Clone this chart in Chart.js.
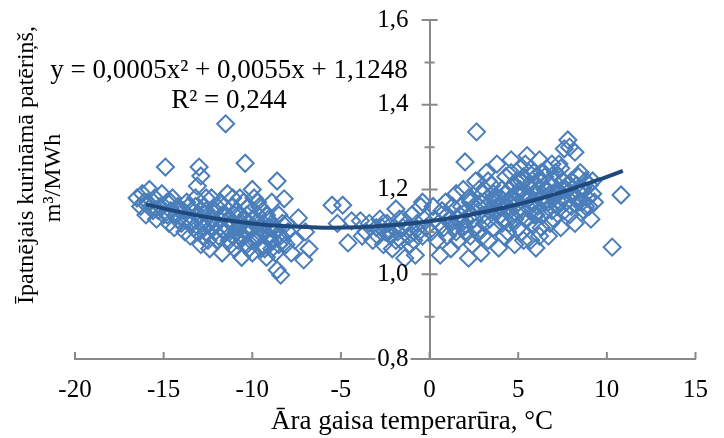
<!DOCTYPE html>
<html>
<head>
<meta charset="utf-8">
<script src="https://cdn.jsdelivr.net/npm/chart.js@4.4.1/dist/chart.umd.min.js"></script>
<style>
    html, body { margin: 0; padding: 0; background: #fff; }
    #wrap { width: 724px; height: 438px; }
</style>
</head>
<body>
<div id="wrap"><canvas id="scatterChart" width="724" height="438"></canvas></div>
<script>
const coldPoints = [
    [-16.5,1.18],[-16.3,1.16],[-16.2,1.19],[-16.1,1.17],[-16.0,1.14],[-15.9,1.17],[-15.8,1.20],[-15.7,1.16],
    [-15.6,1.15],[-15.5,1.18],[-15.4,1.13],[-15.3,1.15],[-15.2,1.16],[-15.1,1.19],[-15.0,1.14],[-14.9,1.253],
    [-14.8,1.17],[-14.8,1.14],[-14.7,1.12],[-14.6,1.15],[-14.6,1.17],[-14.5,1.18],[-14.4,1.11],[-14.3,1.14],
    [-14.2,1.16],[-14.2,1.13],[-14.1,1.15],[-14.0,1.12],[-13.9,1.15],[-13.8,1.10],[-13.8,1.13],[-13.7,1.17],
    [-13.6,1.13],[-13.6,1.16],[-13.5,1.09],[-13.4,1.15],[-13.4,1.12],[-13.3,1.11],[-13.3,1.13],[-13.2,1.18],
    [-13.2,1.16],[-13.1,1.208],[-13.1,1.10],[-13.0,1.253],[-12.9,1.232],[-13.0,1.14],[-12.9,1.07],[-12.9,1.15],
    [-12.8,1.12],[-12.8,1.09],[-12.7,1.16],[-12.7,1.11],[-12.6,1.10],[-12.6,1.15],[-12.6,1.18],[-12.5,1.14],
    [-12.5,1.08],[-12.4,1.06],[-12.4,1.12],[-12.3,1.18],[-12.3,1.13],[-12.2,1.11],[-12.2,1.13],[-12.1,1.15],
    [-12.1,1.10],[-12.0,1.08],[-12.0,1.16],[-12.0,1.12],[-11.9,1.13],[-11.9,1.09],[-11.8,1.17],[-11.8,1.11],
    [-11.7,1.05],[-11.7,1.14],[-11.6,1.10],[-11.6,1.16],[-11.5,1.355],[-11.5,1.14],[-11.5,1.10],[-11.4,1.19],
    [-11.4,1.11],[-11.3,1.08],[-11.3,1.13],[-11.2,1.12],[-11.2,1.07],[-11.1,1.16],[-11.1,1.09],[-11.1,1.18],
    [-11.0,1.06],[-11.0,1.12],[-11.0,1.14],[-10.9,1.10],[-10.9,1.15],[-10.8,1.14],[-10.8,1.08],[-10.8,1.11],
    [-10.7,1.18],[-10.7,1.09],[-10.6,1.04],[-10.6,1.12],[-10.5,1.09],[-10.5,1.17],[-10.5,1.13],[-10.4,1.262],
    [-10.4,1.13],[-10.4,1.10],[-10.3,1.07],[-10.3,1.14],[-10.2,1.16],[-10.2,1.10],[-10.2,1.06],[-10.1,1.11],
    [-10.1,1.08],[-10.0,1.20],[-10.0,1.05],[-10.0,1.13],[-9.9,1.13],[-9.9,1.08],[-9.9,1.18],[-9.8,1.09],
    [-9.8,1.12],[-9.7,1.17],[-9.7,1.14],[-9.6,1.12],[-9.6,1.16],[-9.6,1.09],[-9.5,1.06],[-9.5,1.11],
    [-9.4,1.15],[-9.4,1.07],[-9.4,1.12],[-9.3,1.10],[-9.3,1.06],[-9.2,1.04],[-9.2,1.14],[-9.1,1.13],
    [-9.1,1.09],[-9.0,1.08],[-9.0,1.11],[-8.9,1.17],[-8.9,1.12],[-8.9,1.06],[-8.8,1.11],[-8.8,1.08],
    [-8.7,1.05],[-8.7,1.10],[-8.6,1.22],[-8.6,1.01],[-8.5,1.14],[-8.5,1.07],[-8.4,0.998],[-8.4,1.09],
    [-8.3,1.12],[-8.3,1.08],[-8.2,1.178],[-8.1,1.07],[-8.1,1.12],[-8.0,1.10],[-7.8,1.05],[-7.6,1.08],
    [-7.4,1.133],[-7.1,1.034],[-7.0,1.10]
];
const transitionPoints = [
    [-6.8,1.06],[-5.5,1.163],[-4.9,1.163],[-5.2,1.12],[-4.6,1.074],[-4.4,1.126],[-3.9,1.126],[-3.8,1.09],
    [-3.6,1.10],[-3.4,1.12],[-3.2,1.08],[-3.0,1.11],[-2.9,1.09],[-2.8,1.13],[-2.7,1.11],[-2.6,1.07],
    [-2.6,1.12],[-2.5,1.10],[-2.4,1.12],[-2.3,1.10],[-2.2,1.09],[-2.1,1.06],[-2.0,1.11],[-1.9,1.154],
    [-1.9,1.08],[-1.8,1.10],[-1.7,1.13],[-1.6,1.08],[-1.5,1.11],[-1.5,1.13],[-1.4,1.038],[-1.3,1.12],
    [-1.2,1.09],[-1.1,1.07],[-1.1,1.11],[-1.0,1.14],[-0.9,1.10],[-0.9,1.08],[-0.8,1.045],[-0.7,1.12],
    [-0.6,1.10],[-0.5,1.16],[-0.4,1.17],[-0.4,1.09],[-0.3,1.13],[-0.2,1.11]
];
const warmPoints = [
    [0.1,1.10],[0.2,1.16],[0.3,1.13],[0.4,1.08],[0.5,1.12],[0.6,1.045],[0.7,1.15],[0.8,1.11],
    [0.9,1.17],[1.0,1.09],[1.0,1.14],[1.1,1.13],[1.2,1.06],[1.2,1.12],[1.3,1.16],[1.4,1.11],
    [1.5,1.19],[1.5,1.10],[1.6,1.08],[1.6,1.13],[1.7,1.14],[1.8,1.12],[1.8,1.16],[1.9,1.20],
    [1.9,1.11],[2.0,1.265],[2.0,1.10],[2.0,1.13],[2.1,1.15],[2.2,1.038],[2.2,1.18],[2.3,1.17],
    [2.3,1.09],[2.4,1.07],[2.4,1.14],[2.5,1.13],[2.5,1.16],[2.6,1.22],[2.6,1.11],[2.65,1.336],
    [2.7,1.10],[2.8,1.16],[2.8,1.20],[2.9,1.05],[2.9,1.17],[3.0,1.19],[3.0,1.14],[3.0,1.09],
    [3.1,1.12],[3.1,1.20],[3.2,1.24],[3.2,1.16],[3.3,1.08],[3.3,1.22],[3.4,1.15],[3.4,1.13],
    [3.5,1.21],[3.5,1.17],[3.6,1.11],[3.6,1.19],[3.6,1.15],[3.7,1.17],[3.8,1.26],[3.8,1.18],
    [3.9,1.062],[3.9,1.16],[4.0,1.14],[4.0,1.18],[4.0,1.16],[4.1,1.20],[4.1,1.12],[4.2,1.09],
    [4.2,1.13],[4.3,1.23],[4.3,1.19],[4.4,1.16],[4.4,1.10],[4.5,1.12],[4.5,1.20],[4.5,1.15],
    [4.6,1.27],[4.6,1.14],[4.6,1.24],[4.7,1.18],[4.7,1.21],[4.8,1.07],[4.8,1.16],[4.8,1.13],
    [4.9,1.22],[4.9,1.19],[5.0,1.15],[5.0,1.19],[5.0,1.11],[5.0,1.17],[5.1,1.25],[5.1,1.20],
    [5.2,1.10],[5.2,1.22],[5.2,1.15],[5.3,1.19],[5.3,1.23],[5.3,1.08],[5.4,1.13],[5.4,1.26],
    [5.4,1.18],[5.5,1.28],[5.5,1.16],[5.5,1.13],[5.6,1.21],[5.6,1.18],[5.6,1.24],[5.7,1.08],
    [5.7,1.16],[5.8,1.17],[5.8,1.12],[5.8,1.20],[5.9,1.24],[5.9,1.14],[6.0,1.062],[6.0,1.14],
    [6.0,1.19],[6.0,1.23],[6.0,1.21],[6.1,1.20],[6.1,1.16],[6.2,1.27],[6.2,1.22],[6.2,1.09],
    [6.3,1.11],[6.3,1.24],[6.3,1.18],[6.4,1.18],[6.4,1.14],[6.5,1.23],[6.5,1.17],[6.5,1.20],
    [6.6,1.15],[6.6,1.20],[6.6,1.25],[6.7,1.09],[6.7,1.17],[6.8,1.21],[6.8,1.12],[6.8,1.19],
    [6.9,1.26],[6.9,1.15],[7.0,1.13],[7.0,1.22],[7.0,1.18],[7.1,1.19],[7.1,1.24],[7.2,1.16],
    [7.2,1.20],[7.3,1.23],[7.3,1.17],[7.3,1.26],[7.4,1.11],[7.4,1.25],[7.5,1.20],[7.5,1.18],
    [7.5,1.22],[7.6,1.296],[7.6,1.15],[7.7,1.17],[7.7,1.20],[7.8,1.317],[7.8,1.21],[7.9,1.30],
    [7.9,1.14],[8.0,1.22],[8.0,1.16],[8.0,1.19],[8.1,1.19],[8.2,1.288],[8.2,1.12],[8.3,1.21],
    [8.3,1.18],[8.4,1.17],[8.4,1.23],[8.5,1.24],[8.5,1.19],[8.6,1.20],[8.6,1.17],[8.7,1.15],
    [8.8,1.22],[8.8,1.16],[8.9,1.18],[9.0,1.21],[9.0,1.16],[9.1,1.13],[9.2,1.19],[9.2,1.22],
    [9.3,1.17],[10.3,1.064],[10.8,1.187]
];

// Polynomial trendline
const trendX = [-16, -14, -12, -10, -8, -6, -4, -2, 0, 2, 4, 6, 8, 10, 10.9];
const trendY = [1.165, 1.146, 1.131, 1.120, 1.113, 1.110, 1.111, 1.116, 1.125, 1.138, 1.155, 1.176, 1.201, 1.230, 1.244];

// Axis setup
const X_MIN = -20, X_MAX = 15, X_STEP = 5;
const Y_MIN = 0.8, Y_MAX = 1.6, Y_STEP = 0.2;

const EQUATION_TEXT = 'y = 0,0005x\u00B2 + 0,0055x + 1,1248';
const R2_TEXT = 'R\u00B2 = 0,244';
const X_TITLE = '\u0100ra gaisa temperar\u016Bra, \u00B0C';
const Y_TITLE_1 = '\u012Apatn\u0113jais kurin\u0101m\u0101 pat\u0113ri\u0146\u0161,';
const Y_TITLE_2 = 'm\u00B3/MWh';

const FONT_FAMILY = '"Liberation Serif", "Times New Roman", serif';
const AXIS_COLOR = '#898989';
const MARKER_COLOR = '#4A7EBB';
const TREND_COLOR = '#1F497D';

const toXY = ([x, y]) => ({ x, y });
const scatterData = coldPoints.concat(transitionPoints, warmPoints).map(toXY);
const trendData = trendX.map((x, i) => ({ x, y: trendY[i] }));

const formatComma = (v) => v.toFixed(1).replace('.', ',');

// Draws the y labels and tick marks at the crossing axis plus the free text
const overlayPlugin = {
    id: 'overlay',
    afterDraw(chart) {
        const ctx = chart.ctx;
        const xs = chart.scales.x;
        const ys = chart.scales.y;
        const x0 = xs.getPixelForValue(0);
        const bottom = ys.getPixelForValue(Y_MIN);

        ctx.save();
        ctx.strokeStyle = AXIS_COLOR;
        ctx.lineWidth = 2;
        ctx.beginPath();
        ys.ticks.forEach((t, i) => {
            const py = ys.getPixelForValue(t.value);
            ctx.moveTo(x0 - 8, py);
            ctx.lineTo(x0 + 8, py);
            if (i < ys.ticks.length - 1) {
                const mid = ys.getPixelForValue((t.value + ys.ticks[i + 1].value) / 2);
                ctx.moveTo(x0 - 5, mid);
                ctx.lineTo(x0 + 5, mid);
            }
        });
        xs.ticks.forEach(t => {
            const px = xs.getPixelForValue(t.value);
            ctx.moveTo(px, bottom - 7);
            ctx.lineTo(px, bottom);
        });
        ctx.stroke();

        // y tick labels, left of the axis at x = 0
        ctx.font = '25px ' + FONT_FAMILY;
        ctx.textAlign = 'right';
        ctx.textBaseline = 'middle';
        ys.ticks.forEach((t, i) => {
            const py = ys.getPixelForValue(t.value);
            const label = formatComma(t.value);
            if (i === 0) {
                const w = ctx.measureText(label).width;
                ctx.fillStyle = '#fff';
                ctx.fillRect(x0 - 21 - w - 2, py - 4, w + 4, 8);
            }
            ctx.fillStyle = '#000';
            ctx.fillText(label, x0 - 21, py);
        });

        ctx.fillStyle = '#000';
        ctx.textAlign = 'center';
        ctx.textBaseline = 'alphabetic';
        ctx.font = '27px ' + FONT_FAMILY;
        ctx.fillText(EQUATION_TEXT, 229, 78);
        ctx.fillText(R2_TEXT, 229, 108);

        ctx.font = '27px ' + FONT_FAMILY;
        ctx.fillText(X_TITLE, 412, 429);

        ctx.font = '24px ' + FONT_FAMILY;
        ctx.textBaseline = 'middle';
        ctx.save();
        ctx.translate(27, 165);
        ctx.rotate(-Math.PI / 2);
        ctx.fillText(Y_TITLE_1, 0, 0);
        ctx.restore();
        ctx.save();
        ctx.translate(54, 178);
        ctx.rotate(-Math.PI / 2);
        ctx.fillText(Y_TITLE_2, 0, 0);
        ctx.restore();
        ctx.restore();
    }
};

Chart.defaults.font.family = FONT_FAMILY;
Chart.defaults.font.size = 25;
Chart.defaults.color = '#000';

const ctx = document.getElementById('scatterChart').getContext('2d');
const chart = new Chart(ctx, {
    type: 'scatter',
    data: {
        datasets: [
            {
                type: 'line',
                label: 'Trend',
                data: trendData,
                borderColor: TREND_COLOR,
                borderWidth: 4,
                pointRadius: 0,
                tension: 0.4,
                fill: false,
                order: 0
            },
            {
                label: 'Measurements',
                data: scatterData,
                pointStyle: 'rectRot',
                pointRadius: 8.5,
                pointHoverRadius: 8.5,
                borderColor: MARKER_COLOR,
                backgroundColor: 'rgba(0,0,0,0)',
                borderWidth: 2,
                order: 1
            }
        ]
    },
    options: {
        responsive: false,
        animation: false,
        layout: { padding: { left: 75, right: 15, top: 20, bottom: 0 } },
        plugins: {
            legend: { display: false },
            tooltip: { enabled: false }
        },
        scales: {
            x: {
                type: 'linear',
                min: X_MIN,
                max: X_MAX,
                ticks: { stepSize: X_STEP, padding: 16, color: '#000' },
                grid: { display: false, drawTicks: false },
                border: { display: true, color: AXIS_COLOR, width: 2 },
                afterFit: (scale) => { scale.height = 79; }
            },
            y: {
                type: 'linear',
                position: { x: 0 },
                min: Y_MIN,
                max: Y_MAX,
                ticks: { stepSize: Y_STEP, display: false },
                grid: { display: false, drawTicks: false },
                border: { display: true, color: AXIS_COLOR, width: 2 }
            }
        }
    },
    plugins: [overlayPlugin]
});
</script>
</body>
</html>
